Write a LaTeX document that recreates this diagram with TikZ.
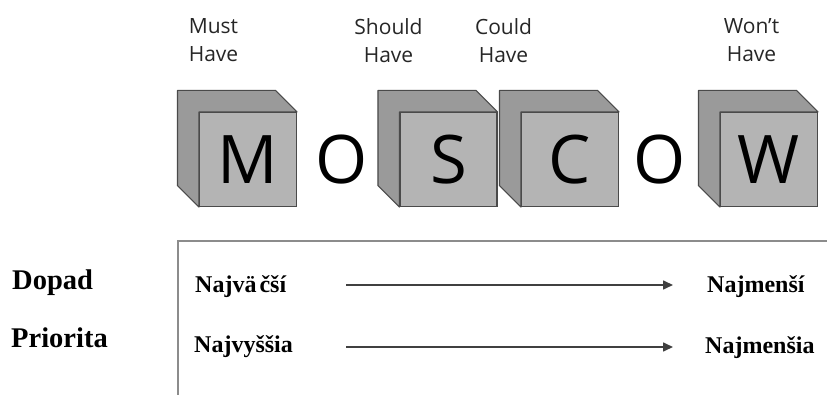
\documentclass[tikz,border=0pt]{standalone}
\usepackage{fontspec}
\setmainfont{Liberation Serif}
\newfontfamily\labelfont{Open Sans}
\usetikzlibrary{calc,arrows.meta}

\definecolor{faceFront}{HTML}{B4B4B4}
\definecolor{faceSide}{HTML}{9A9A9A}
\definecolor{cubeEdge}{HTML}{4A4A4A}
\definecolor{frameGray}{HTML}{8C8C8C}

\tikzset{
  cubeface/.style={draw=cubeEdge, fill=faceFront, line width=1.1pt,
    minimum width=97pt, minimum height=94pt, inner sep=0pt,
    font=\labelfont\fontsize{67}{67}\selectfont},
  cubeside/.style={draw=cubeEdge, fill=faceSide, line width=1.1pt, line join=round},
  bigletter/.style={inner sep=0pt, font=\labelfont\fontsize{67}{67}\selectfont},
  toplabel/.style={align=center, inner sep=0pt, font=\labelfont\fontsize{21}{28}\selectfont, text=black!85},
  rowlabel/.style={anchor=base west, inner sep=0pt, font=\bfseries\fontsize{28.5}{30}\selectfont},
  endlabel/.style={anchor=base west, inner sep=0pt, font=\bfseries\fontsize{24}{26}\selectfont},
  scalearrow/.style={draw=black!75, line width=1.6pt, -{Triangle[length=10pt,width=9pt]}},
  frame/.style={draw=frameGray, line width=2pt}
}

% a grey block: front face as a node, back/top/left strip drawn around it
\newcommand{\moscowcube}[4]{%
  \node[cubeface] (#1) at (#2,#3) {#4};
  \draw[cubeside]
    ($(#1.north west)+(-21.5,-21.5)$) -- ($(#1.north east)+(-21.5,-21.5)$)
    -- (#1.north east) -- (#1.north west) -- (#1.south west)
    -- ($(#1.south west)+(-21.5,-21.5)$) -- cycle;
}

\begin{document}
\begin{tikzpicture}[x=1pt,y=-1pt]
  \useasboundingbox (0,0) rectangle (827,395);

  % the four blocks and the two loose letters
  \moscowcube{cubeM}{248}{159.5}{M}
  \moscowcube{cubeS}{448.5}{159.5}{S}
  \moscowcube{cubeC}{570}{159.5}{C}
  \moscowcube{cubeW}{769}{159.5}{W}
  \node[bigletter] (o1) at (342,159.5) {O};
  \node[bigletter] (o2) at (660,159.5) {O};

  % category captions
  \node[toplabel] (lblM) at (213.5,40.5) {Must\\Have};
  \node[toplabel] (lblS) at (388.5,40.5) {Should\\Have};
  \node[toplabel] (lblC) at (503.5,40.5) {Could\\Have};
  \node[toplabel] (lblW) at (751.5,40.5) {Won’t\\Have};

  % open frame of the scale
  \coordinate (frameTop) at (827,241);
  \coordinate (frameCorner) at (178,241);
  \coordinate (frameBottom) at (178,395);
  \draw[frame] (frameTop) -- (frameCorner) -- (frameBottom);

  % row captions
  \node[rowlabel] (dopad) at (12,290) {Dopad};
  \node[rowlabel] (priorita) at (11,347) {Priorita};

  % scale ends
  \node[endlabel] (maxImpact) at (195,293) {Najvä\hspace{3pt}čší};
  \node[endlabel] (minImpact) at (707,292) {Najmenší};
  \node[endlabel] (maxPrio) at (194,352) {Najvyššia};
  \node[endlabel] (minPrio) at (705,353) {Najmenšia};

  \coordinate (arrow1start) at (346,285);
  \coordinate (arrow1end) at (673,285);
  \coordinate (arrow2start) at (346,347);
  \coordinate (arrow2end) at (673,347);
  \draw[scalearrow] (arrow1start) -- (arrow1end);
  \draw[scalearrow] (arrow2start) -- (arrow2end);
\end{tikzpicture}
\end{document}
